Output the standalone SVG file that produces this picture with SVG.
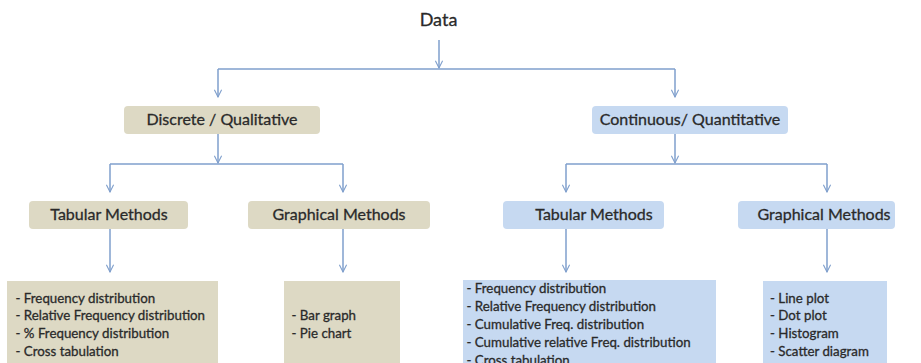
<svg xmlns="http://www.w3.org/2000/svg" width="921" height="363" viewBox="0 0 921 363">
<defs>
<marker id="arr" viewBox="0 0 10 10" refX="9" refY="5" markerWidth="9" markerHeight="9" markerUnits="userSpaceOnUse" orient="auto">
<path d="M1,1 L9,5 L1,9" fill="none" stroke="#7f9fcc" stroke-width="1.2"/>
</marker>
<style>
.t{font-family:Lato,"Liberation Sans",sans-serif;fill:#2a2a2a;stroke:#2a2a2a;stroke-width:0.3}
.h{font-size:16px;text-anchor:middle}
.l{font-size:13.3px}
.tan{fill:#ddd9c4}
.blue{fill:#c6d9f1}
.c{fill:none;stroke:#7f9fcc;stroke-width:1.5}
.a{marker-end:url(#arr)}
</style>
</defs>
<rect width="921" height="363" fill="#ffffff"/>
<g id="connectors">
<path class="c a" d="M439,40 V68"/>
<path class="c" d="M218,69 H675"/>
<path class="c a" d="M218,69 V97"/>
<path class="c a" d="M675,69 V97"/>
<path class="c a" d="M218,134 V163"/>
<path class="c" d="M110,164 H343"/>
<path class="c a" d="M110,164 V192"/>
<path class="c a" d="M343,164 V192"/>
<path class="c a" d="M675,134 V163"/>
<path class="c" d="M566,164 H827"/>
<path class="c a" d="M566,164 V192"/>
<path class="c a" d="M827,164 V192"/>
<path class="c a" d="M110,229 V272"/>
<path class="c a" d="M343,229 V272"/>
<path class="c a" d="M566,229 V272"/>
<path class="c a" d="M827,229 V272"/>
</g>
<g id="data"><text class="t" x="438.5" y="26" font-size="18" text-anchor="middle">Data</text></g>
<g id="discrete"><rect class="tan" x="124" y="106" width="196" height="28" rx="4"/><text class="t h" x="222" y="125">Discrete / Qualitative</text></g>
<g id="continuous"><rect class="blue" x="592" y="106" width="196" height="28" rx="4"/><text class="t h" x="690" y="125">Continuous/ Quantitative</text></g>
<g id="d-tabular"><rect class="tan" x="29" y="201" width="159" height="28" rx="4"/><text class="t h" x="109" y="220">Tabular Methods</text></g>
<g id="d-graphical"><rect class="tan" x="248" y="201" width="182" height="28" rx="4"/><text class="t h" x="339" y="220">Graphical Methods</text></g>
<g id="c-tabular"><rect class="blue" x="503" y="201" width="161" height="28" rx="4"/><text class="t h" x="594" y="220">Tabular Methods</text></g>
<g id="c-graphical"><rect class="blue" x="738" y="201" width="157" height="28" rx="4"/><text class="t h" x="824" y="220">Graphical Methods</text></g>
<g id="d-tab-list"><rect class="tan" x="7" y="281" width="211" height="90"/>
<text class="t l" x="15.5" y="302.7">- Frequency distribution</text>
<text class="t l" x="15.5" y="320.4">- Relative Frequency distribution</text>
<text class="t l" x="15.5" y="338.1">- % Frequency distribution</text>
<text class="t l" x="15.5" y="355.8">- Cross tabulation</text></g>
<g id="d-graph-list"><rect class="tan" x="284" y="281" width="116" height="90"/>
<text class="t l" x="291.5" y="320.4">- Bar graph</text>
<text class="t l" x="291.5" y="338.1">- Pie chart</text></g>
<g id="c-tab-list"><rect class="blue" x="463" y="280" width="253" height="90"/>
<text class="t l" x="466.5" y="293.3">- Frequency distribution</text>
<text class="t l" x="466.5" y="311.2">- Relative Frequency distribution</text>
<text class="t l" x="466.5" y="329.1">- Cumulative Freq. distribution</text>
<text class="t l" x="466.5" y="347">- Cumulative relative Freq. distribution</text>
<text class="t l" x="466.5" y="364.5">- Cross tabulation</text></g>
<g id="c-graph-list"><rect class="blue" x="763" y="281" width="124" height="90"/>
<text class="t l" x="770" y="302.7">- Line plot</text>
<text class="t l" x="770" y="320.4">- Dot plot</text>
<text class="t l" x="770" y="338.1">- Histogram</text>
<text class="t l" x="770" y="355.8">- Scatter diagram</text></g>
</svg>
